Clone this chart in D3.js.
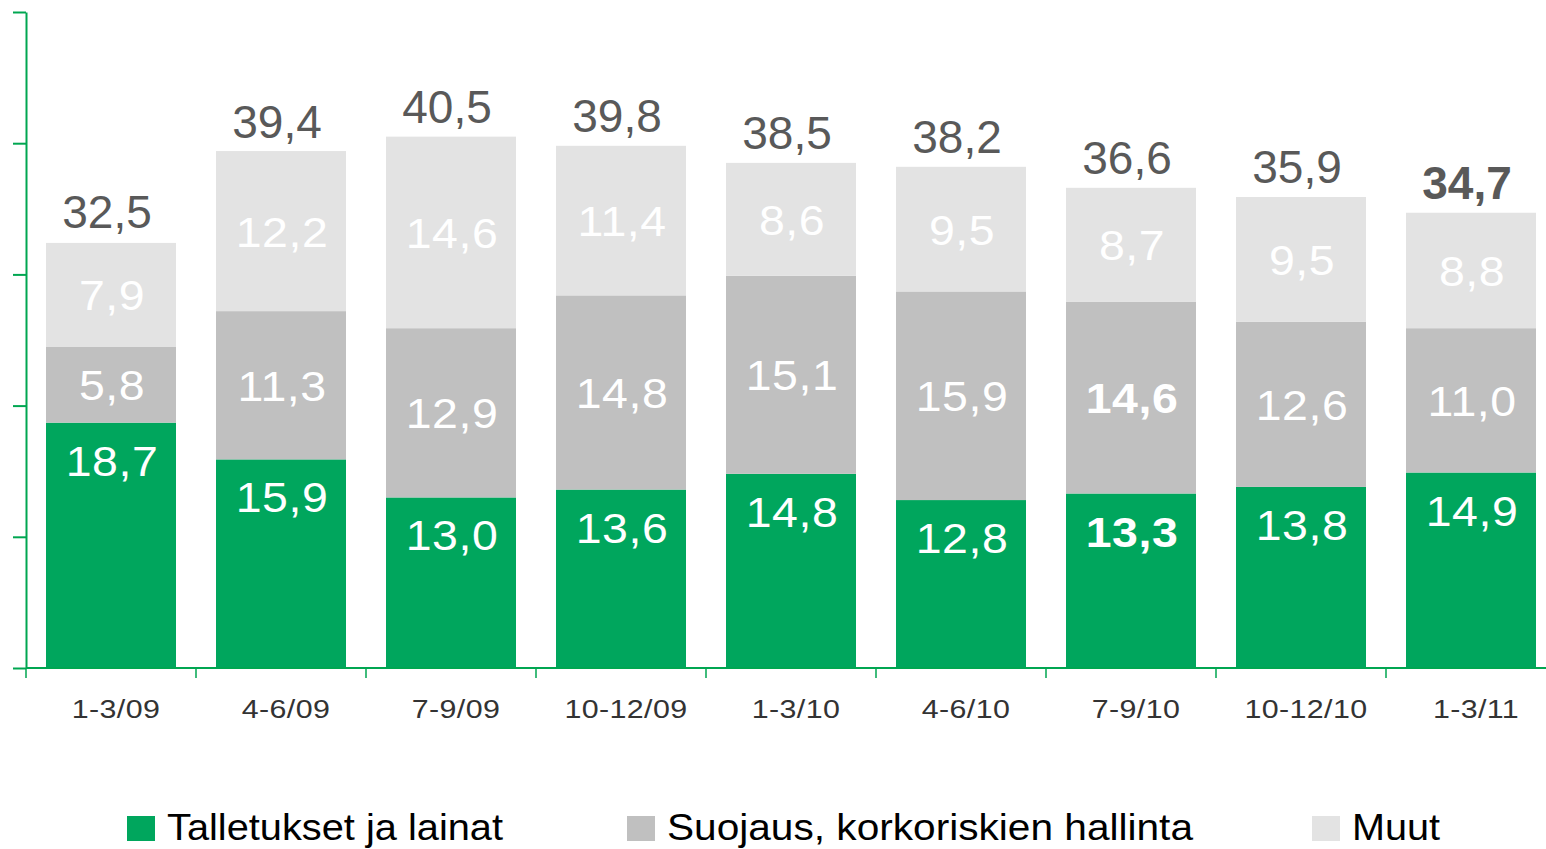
<!DOCTYPE html>
<html>
<head>
<meta charset="utf-8">
<script src="https://cdn.jsdelivr.net/npm/d3@7"></script>
<style>
  html, body { margin: 0; padding: 0; background: #fff; }
  svg { display: block; font-family: "Liberation Sans", Arial, sans-serif; }
</style>
</head>
<body>
<svg id="chart" width="1546" height="849"></svg>
<script>
const categories = ["1-3/09", "4-6/09", "7-9/09", "10-12/09", "1-3/10", "4-6/10", "7-9/10", "10-12/10", "1-3/11"];
const talletukset = [18.7, 15.9, 13.0, 13.6, 14.8, 12.8, 13.3, 13.8, 14.9];
const suojaus     = [5.8, 11.3, 12.9, 14.8, 15.1, 15.9, 14.6, 12.6, 11.0];
const muut        = [7.9, 12.2, 14.6, 11.4, 8.6, 9.5, 8.7, 9.5, 8.8];
const totals      = [32.5, 39.4, 40.5, 39.8, 38.5, 38.2, 36.6, 35.9, 34.7];
const seriesNames = ["Talletukset ja lainat", "Suojaus, korkoriskien hallinta", "Muut"];
const yTicks = [0, 10, 20, 30, 40, 50];

const colors = ["#00A65D", "#C0C0C0", "#E3E3E3"];
const axisColor = "#00A651";
const fmt = v => v.toFixed(1).replace(".", ",");

const svg = d3.select("#chart");

const x = d3.scaleBand()
  .domain(categories)
  .range([26, 1556])
  .paddingInner(40 / 170)
  .paddingOuter(20 / 170);
const y = d3.scaleLinear().domain([0, 50]).range([668, 12]);

const rows = categories.map((c, i) => ({
  cat: c, i, vals: [talletukset[i], suojaus[i], muut[i]], total: totals[i]
}));
const stack = d3.stack().keys([0, 1, 2]).value((d, k) => d.vals[k]);
const stacked = stack(rows);

// bars
const layers = svg.append("g").selectAll("g").data(stacked).join("g")
  .attr("fill", (d, k) => colors[k]);
layers.selectAll("rect").data(d => d).join("rect")
  .attr("x", d => x(d.data.cat))
  .attr("width", x.bandwidth())
  .attr("y", d => y(d[1]))
  .attr("height", d => y(d[0]) - y(d[1]));

// segment labels
const boldCat = "7-9/10";
stacked.forEach((layer, k) => {
  svg.append("g").selectAll("text").data(layer).join("text")
    .attr("transform", d => {
      const cx = x(d.data.cat) + x.bandwidth() / 2 + 1;
      const cy = k === 0 ? y(d[1]) + 53 : (y(d[0]) + y(d[1])) / 2 + 15.5;
      return `translate(${cx},${cy}) scale(1.08,1)`;
    })
    .attr("text-anchor", "middle")
    .attr("fill", "#fff")
    .attr("font-size", 43)
    .attr("letter-spacing", "0.5px")
    .attr("font-weight", d => (d.data.cat === boldCat && k < 2) ? "bold" : "normal")
    .text(d => fmt(d.data.vals[k]));
});

// total labels
svg.append("g").selectAll("text").data(rows).join("text")
  .attr("x", d => x(d.cat) + x.bandwidth() / 2 - 4)
  .attr("y", d => y(d.total) - 13.5)
  .attr("text-anchor", "middle")
  .attr("fill", "#595959")
  .attr("font-size", 46)
  .attr("font-weight", (d, i) => i === rows.length - 1 ? "bold" : "normal")
  .text(d => fmt(d.total));

// y axis
const yAxis = svg.append("g").attr("transform", "translate(26,0)")
  .call(d3.axisLeft(y).tickValues(yTicks).tickSize(13).tickSizeOuter(0).tickFormat(""));
yAxis.selectAll("path, line").attr("stroke", axisColor).attr("stroke-width", 2);

// x axis
const gap = (x.step() - x.bandwidth()) / 2;
const xg = svg.append("g");
xg.append("line")
  .attr("x1", x.range()[0]).attr("x2", x.range()[1])
  .attr("y1", y(0)).attr("y2", y(0))
  .attr("stroke", axisColor).attr("stroke-width", 2);
const bounds = categories.map(c => x(c) - gap).concat([x(categories[categories.length - 1]) + x.bandwidth() + gap]);
xg.selectAll("line.tick").data(bounds).join("line")
  .attr("class", "tick")
  .attr("x1", d => d).attr("x2", d => d)
  .attr("y1", y(0)).attr("y2", y(0) + 10)
  .attr("stroke", axisColor).attr("stroke-width", 1.5);
xg.selectAll("text").data(categories).join("text")
  .attr("transform", d => `translate(${x(d) + x.bandwidth() / 2 + 5},718) scale(1.17,1)`)
  .attr("text-anchor", "middle")
  .attr("fill", "#333")
  .attr("font-size", 26)
  .attr("letter-spacing", "0.3px")
  .text(d => d);

// legend
const legendX = [127, 627, 1312];
const legendW = [336, 526, 88];
const lg = svg.append("g").selectAll("g").data(seriesNames).join("g")
  .attr("transform", (d, i) => `translate(${legendX[i]},816)`);
lg.append("rect").attr("width", 28).attr("height", 25).attr("fill", (d, i) => colors[i]);
lg.append("text")
  .attr("x", 40).attr("y", 24)
  .attr("font-size", 36)
  .attr("fill", "#000")
  .attr("textLength", (d, i) => legendW[i])
  .attr("lengthAdjust", "spacingAndGlyphs")
  .text(d => d);
</script>
</body>
</html>
